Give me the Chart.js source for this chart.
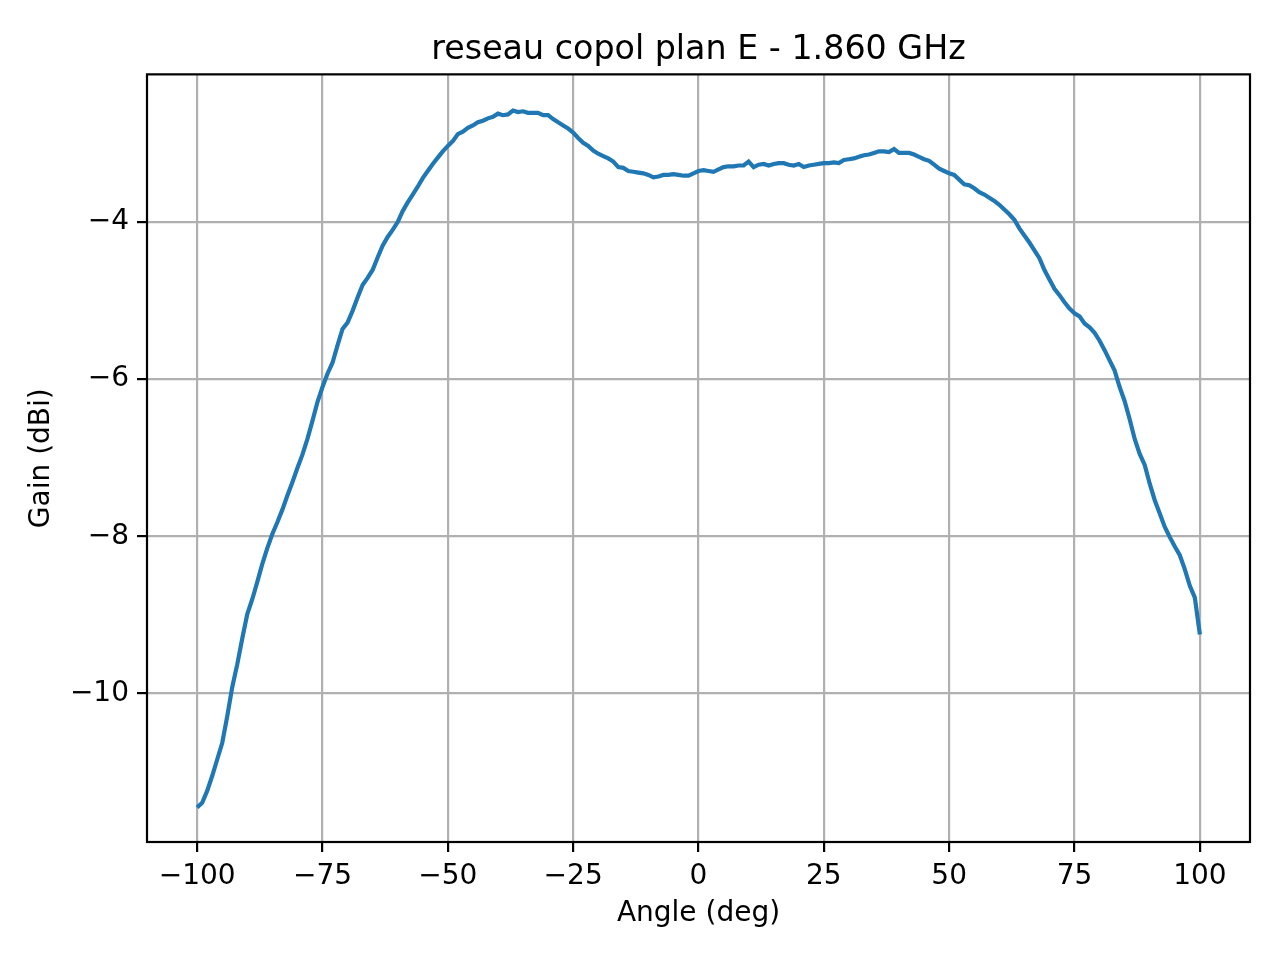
<!DOCTYPE html>
<html>
  <head>
    <script src="https://cdn.jsdelivr.net/npm/chart.js"></script>
    <style>
      body { margin: 0; background: white; }
    </style>
  </head>

  <body>
    <canvas id="pattern" width="1280" height="960"></canvas>
  </body>

  <script>
    // measured angles (deg)
    var angles = [
      -100, -99, -98, -97, -96, -95, -94, -93, -92, -91,
      -90, -89, -88, -87, -86, -85, -84, -83, -82, -81,
      -80, -79, -78, -77, -76, -75, -74, -73, -72, -71,
      -70, -69, -68, -67, -66, -65, -64, -63, -62, -61,
      -60, -59, -58, -57, -56, -55, -54, -53, -52, -51,
      -50, -49, -48, -47, -46, -45, -44, -43, -42, -41,
      -40, -39, -38, -37, -36, -35, -34, -33, -32, -31,
      -30, -29, -28, -27, -26, -25, -24, -23, -22, -21,
      -20, -19, -18, -17, -16, -15, -14, -13, -12, -11,
      -10, -9, -8, -7, -6, -5, -4, -3, -2, -1,
      0, 1, 2, 3, 4, 5, 6, 7, 8, 9,
      10, 11, 12, 13, 14, 15, 16, 17, 18, 19,
      20, 21, 22, 23, 24, 25, 26, 27, 28, 29,
      30, 31, 32, 33, 34, 35, 36, 37, 38, 39,
      40, 41, 42, 43, 44, 45, 46, 47, 48, 49,
      50, 51, 52, 53, 54, 55, 56, 57, 58, 59,
      60, 61, 62, 63, 64, 65, 66, 67, 68, 69,
      70, 71, 72, 73, 74, 75, 76, 77, 78, 79,
      80, 81, 82, 83, 84, 85, 86, 87, 88, 89,
      90, 91, 92, 93, 94, 95, 96, 97, 98, 99,
      100,
    ];

    // copol gain (dBi)
    var gain = [
      -11.45, -11.39, -11.24, -11.05, -10.84, -10.63, -10.29, -9.92, -9.63, -9.30,
      -8.99, -8.80, -8.58, -8.35, -8.15, -7.97, -7.82, -7.66, -7.48, -7.31,
      -7.13, -6.96, -6.76, -6.53, -6.29, -6.10, -5.93, -5.79, -5.57, -5.36,
      -5.28, -5.13, -4.96, -4.80, -4.71, -4.61, -4.45, -4.30, -4.19, -4.10,
      -4.00, -3.86, -3.75, -3.65, -3.55, -3.44, -3.35, -3.26, -3.18, -3.10,
      -3.03, -2.97, -2.88, -2.85, -2.80, -2.77, -2.73, -2.71, -2.68, -2.66,
      -2.62, -2.64, -2.63, -2.58, -2.60, -2.59, -2.61, -2.61, -2.61, -2.64,
      -2.64, -2.69, -2.73, -2.77, -2.81, -2.86, -2.93, -2.99, -3.03, -3.09,
      -3.13, -3.16, -3.19, -3.23, -3.30, -3.31, -3.35, -3.36, -3.37, -3.38,
      -3.40, -3.43, -3.42, -3.40, -3.40, -3.39, -3.40, -3.41, -3.41, -3.38,
      -3.35, -3.34, -3.35, -3.36, -3.33, -3.30, -3.29, -3.29, -3.28, -3.28,
      -3.23, -3.30, -3.27, -3.26, -3.28, -3.26, -3.25, -3.25, -3.27, -3.28,
      -3.26, -3.30, -3.28, -3.27, -3.26, -3.25, -3.25, -3.24, -3.25, -3.21,
      -3.20, -3.19, -3.17, -3.15, -3.14, -3.12, -3.10, -3.10, -3.11, -3.07,
      -3.12, -3.12, -3.12, -3.14, -3.17, -3.20, -3.22, -3.27, -3.32, -3.35,
      -3.38, -3.40, -3.46, -3.52, -3.53, -3.57, -3.62, -3.65, -3.69, -3.73,
      -3.78, -3.84, -3.90, -3.97, -4.08, -4.17, -4.26, -4.36, -4.46, -4.61,
      -4.73, -4.85, -4.93, -5.02, -5.10, -5.16, -5.20, -5.29, -5.34, -5.41,
      -5.51, -5.63, -5.76, -5.89, -6.10, -6.28, -6.51, -6.76, -6.95, -7.09,
      -7.33, -7.54, -7.71, -7.88, -8.01, -8.13, -8.24, -8.42, -8.63, -8.78,
      -9.25,
    ];

    var xTicks = [-100, -75, -50, -25, 0, 25, 50, 75, 100];
    var yTicks = [-10, -8, -6, -4];

    var title = "reseau copol plan E - 1.860 GHz";
    var font = "'DejaVu Sans', sans-serif";

    // matplotlib style minus sign
    function fmt(v) {
      return v < 0 ? "\u2212" + Math.abs(v) : String(v);
    }

    // full box round the plot, like the mpl spines
    const frame = {
      id: "frame",
      afterDraw(chart) {
        const { ctx, chartArea: a } = chart;
        ctx.save();
        ctx.strokeStyle = "#000";
        ctx.lineWidth = 2.2;
        ctx.strokeRect(a.left, a.top, a.right - a.left, a.bottom - a.top);
        ctx.restore();
      },
    };

    var points = [];
    for (let i = 0; i < angles.length; i++) {
      points.push({ x: angles[i], y: gain[i] });
    }

    const ctx = document.getElementById("pattern").getContext("2d");

    const chart = new Chart(ctx, {
      type: "line",
      data: {
        datasets: [
          {
            data: points,
            borderColor: "#1f77b4",
            borderWidth: 4.2,
            pointRadius: 0,
            tension: 0,
            fill: false,
          },
        ],
      },
      plugins: [frame],
      options: {
        responsive: false,
        animation: false,
        devicePixelRatio: 1,
        layout: { padding: { left: 0, right: 30, top: 0, bottom: 0 } },
        scales: {
          x: {
            type: "linear",
            min: -110,
            max: 110,
            afterBuildTicks: (s) => {
              s.ticks = xTicks.map((v) => ({ value: v }));
            },
            afterFit: (s) => {
              s.height = 118;
            },
            grid: {
              color: "#b0b0b0",
              lineWidth: 2.2,
              tickColor: "#000",
              tickWidth: 2.2,
              tickLength: 10,
            },
            border: { display: false },
            ticks: {
              autoSkip: false,
              maxRotation: 0,
              padding: 8,
              color: "#000",
              font: { family: font, size: 28 },
              callback: fmt,
            },
            title: {
              display: true,
              text: "Angle (deg)",
              color: "#000",
              font: { family: font, size: 28 },
              padding: { top: 0, bottom: 29 },
            },
          },
          y: {
            min: -11.89,
            max: -2.12,
            afterBuildTicks: (s) => {
              s.ticks = yTicks.map((v) => ({ value: v }));
            },
            afterFit: (s) => {
              s.width = 147;
            },
            grid: {
              color: "#b0b0b0",
              lineWidth: 2.2,
              tickColor: "#000",
              tickWidth: 2.2,
              tickLength: 10,
            },
            border: { display: false },
            ticks: {
              autoSkip: false,
              padding: 8,
              color: "#000",
              font: { family: font, size: 28 },
              callback: fmt,
            },
            title: {
              display: true,
              text: "Gain (dBi)",
              color: "#000",
              font: { family: font, size: 28 },
              padding: { top: 25, bottom: 0 },
            },
          },
        },
        plugins: {
          legend: { display: false },
          tooltip: { enabled: false },
          title: {
            display: true,
            text: title,
            fullSize: false,
            color: "#000",
            font: { family: font, size: 33.3, weight: "normal" },
            padding: { top: 30, bottom: 4.4 },
          },
        },
      },
    });
  </script>
</html>
